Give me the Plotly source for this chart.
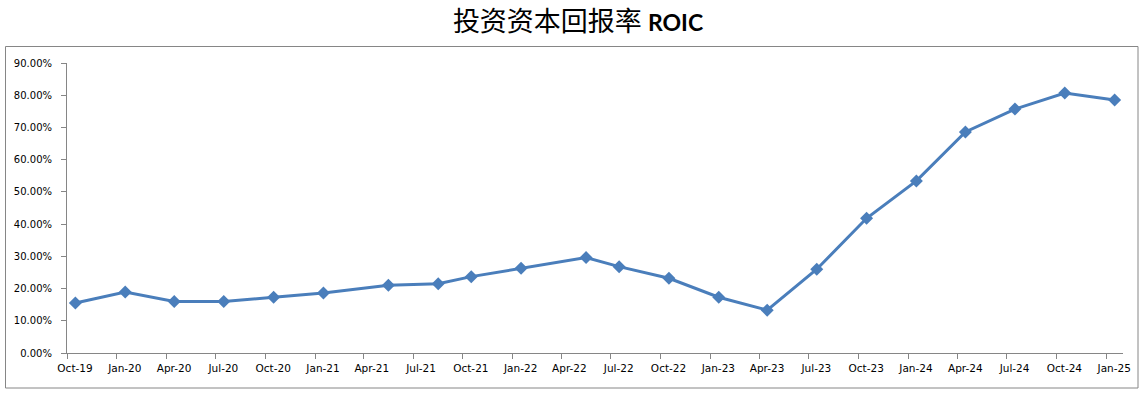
import plotly.graph_objects as go

# Data (monthly date, ROIC)
dates = ["2019-10-01", "2020-01-01", "2020-04-01", "2020-07-01", "2020-10-01",
         "2021-01-01", "2021-05-01", "2021-08-01", "2021-10-01", "2022-01-01",
         "2022-05-01", "2022-07-01", "2022-10-01", "2023-01-01", "2023-04-01",
         "2023-07-01", "2023-10-01", "2024-01-01", "2024-04-01", "2024-07-01",
         "2024-10-01", "2025-01-01"]
roic = [0.155, 0.189, 0.160, 0.160, 0.173,
        0.186, 0.210, 0.215, 0.237, 0.263,
        0.296, 0.268, 0.232, 0.173, 0.133,
        0.260, 0.418, 0.534, 0.686, 0.757,
        0.807, 0.785]

tick_dates = ["2019-10-01", "2020-01-01", "2020-04-01", "2020-07-01", "2020-10-01",
              "2021-01-01", "2021-04-01", "2021-07-01", "2021-10-01", "2022-01-01",
              "2022-04-01", "2022-07-01", "2022-10-01", "2023-01-01", "2023-04-01",
              "2023-07-01", "2023-10-01", "2024-01-01", "2024-04-01", "2024-07-01",
              "2024-10-01", "2025-01-01"]
y_ticks = [0.0, 0.1, 0.2, 0.3, 0.4, 0.5, 0.6, 0.7, 0.8, 0.9]

title_text = ("<span style='font-family:\"Noto Sans CJK SC\"'>投资资本回报率</span> "
              "<span style='font-family:Lato;font-size:23px'><b>ROIC</b></span>")

fig = go.Figure()
fig.add_trace(go.Scatter(
    x=dates, y=roic,
    xperiod="M1", xperiodalignment="middle",
    mode="lines+markers",
    line=dict(color="#4A7EBB", width=3),
    marker=dict(symbol="diamond", size=10, color="#4A7EBB"),
    showlegend=False,
))

axis_col = "#868686"
fig.update_layout(
    width=1145, height=401,
    margin=dict(l=67, r=22, t=63, b=48),
    paper_bgcolor="white", plot_bgcolor="white",
    title=dict(text=title_text, x=(578 - 67) / 1056, xref="paper", xanchor="center",
               y=1 - 22 / 401, yanchor="middle",
               font=dict(size=27, color="#000000", family="Noto Sans CJK SC")),
    font=dict(family="DejaVu Sans", size=10, color="#000000"),
    xaxis=dict(
        type="date",
        range=["2019-10-01", "2025-02-01"],
        tickvals=tick_dates,
        tickformat="%b-%y",
        ticks="outside", ticklen=5, tickcolor=axis_col, tickwidth=1,
        ticklabelshift=8,
        showline=True, linecolor=axis_col, linewidth=1,
        showgrid=False, zeroline=False,
        tickfont=dict(family="DejaVu Sans", size=10.5, color="#000000"),
    ),
    yaxis=dict(
        range=[0, 0.9],
        tickvals=y_ticks,
        tickformat=".2%",
        ticks="outside", ticklen=5, tickcolor=axis_col, tickwidth=1,
        ticklabelstandoff=7,
        showline=True, linecolor=axis_col, linewidth=1,
        showgrid=False, zeroline=False,
        tickfont=dict(family="DejaVu Sans", size=10, color="#000000"),
    ),
)

# Outer chart-area border
fig.add_shape(type="rect", xref="paper", yref="paper",
              x0=(5.5 - 67) / 1056, x1=(1138 - 67) / 1056,
              y0=(353 - 388) / 290, y1=(353 - 46.5) / 290,
              line=dict(color=axis_col, width=1), fillcolor="rgba(0,0,0,0)",
              layer="below")

fig.write_html("out.html",
               config={"displayModeBar": False},
               post_script="document.body.style.margin='0';document.body.style.overflow='hidden';")
